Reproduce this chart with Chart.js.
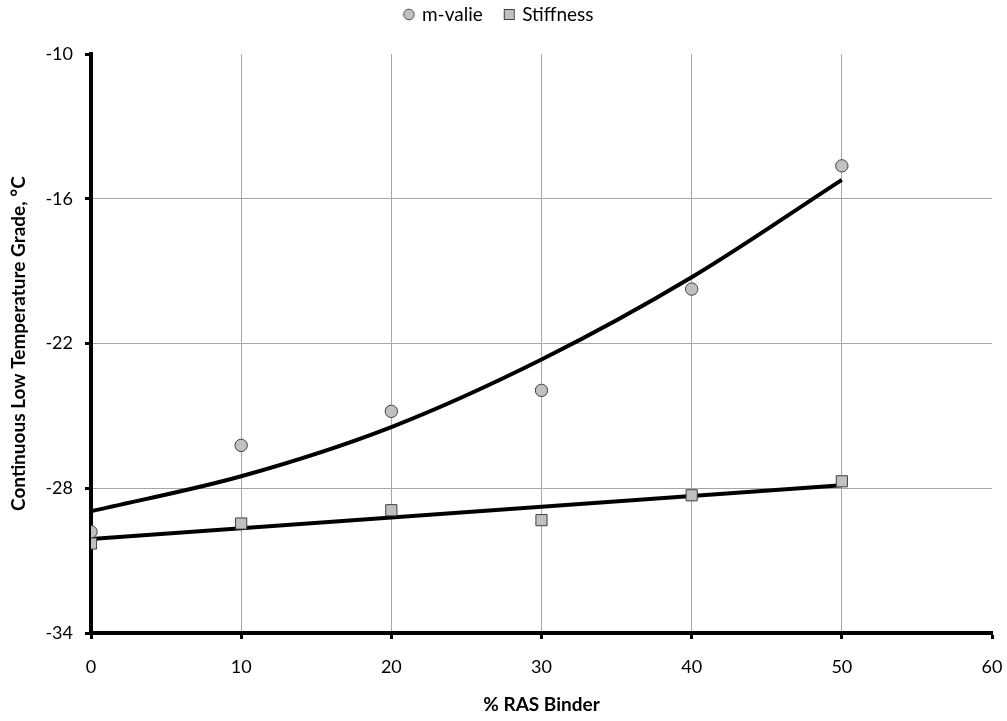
<!DOCTYPE html>
<html>
<head>
<meta charset="utf-8">
<script src="https://cdn.jsdelivr.net/npm/chart.js@4.4.1/dist/chart.umd.min.js"></script>
<style>
  html, body { margin: 0; padding: 0; background: #fff; }
  #wrap { width: 1007px; height: 721px; position: relative; }
</style>
</head>
<body>
<div id="wrap"><canvas id="c" width="1007" height="721"></canvas></div>
<script>
// ---- data ----
const rasBinder = [0, 10, 20, 30, 40, 50];
const mValue    = [-29.8, -26.22, -24.81, -23.94, -19.74, -14.63];
const stiffness = [-30.29, -29.46, -28.91, -29.32, -28.29, -27.71];
// trend lines
const mTrendX   = [0, 10, 20, 30, 40, 50];
const mTrendY   = [-28.95, -27.5, -25.46, -22.66, -19.25, -15.21];
const sTrendX   = [0, 50];
const sTrendY   = [-30.1, -27.87];
const xTicks    = [0, 10, 20, 30, 40, 50, 60];
const yTicks    = [-34, -28, -22, -16, -10];

const FONT = "Lato, 'Open Sans', sans-serif";
const pts = (xs, ys) => xs.map((x, i) => ({ x: x, y: ys[i] }));

function legendIcon(kind) {
  const c = document.createElement('canvas');
  c.width = 13; c.height = 13;
  const g = c.getContext('2d');
  g.fillStyle = '#c0c0c0';
  g.strokeStyle = '#404040';
  g.lineWidth = 1;
  if (kind === 'circle') {
    g.beginPath(); g.arc(6.5, 6.5, 5.3, 0, Math.PI * 2); g.fill(); g.stroke();
  } else {
    g.fillRect(1.5, 1.5, 10, 10); g.strokeRect(1.5, 1.5, 10, 10);
  }
  return c;
}
const icons = { 'm-valie': legendIcon('circle'), 'Stiffness': legendIcon('rect') };

new Chart(document.getElementById('c'), {
  type: 'scatter',
  data: {
    datasets: [
      {
        label: 'm-valie',
        data: pts(rasBinder, mValue),
        pointStyle: 'circle',
        pointRadius: 6.2,
        pointHoverRadius: 6.2,
        backgroundColor: '#c0c0c0',
        borderColor: '#404040',
        borderWidth: 1,
        order: 1
      },
      {
        label: 'Stiffness',
        data: pts(rasBinder, stiffness),
        pointStyle: 'rect',
        pointRadius: 7.9,
        pointHoverRadius: 7.9,
        backgroundColor: '#c0c0c0',
        borderColor: '#404040',
        borderWidth: 1,
        order: 1
      },
      {
        label: 'trend-m',
        data: pts(mTrendX, mTrendY),
        showLine: true,
        pointRadius: 0,
        borderColor: '#000',
        borderWidth: 4,
        cubicInterpolationMode: 'monotone',
        order: 2
      },
      {
        label: 'trend-s',
        data: pts(sTrendX, sTrendY),
        showLine: true,
        pointRadius: 0,
        borderColor: '#000',
        borderWidth: 4,
        order: 2
      }
    ]
  },
  options: {
    responsive: false,
    animation: false,
    layout: { padding: { left: 7, right: 15, top: -18, bottom: 5 } },
    plugins: {
      tooltip: { enabled: false },
      legend: {
        position: 'top',
        weight: 3000,
        labels: {
          generateLabels: (chart) => {
            const items = Chart.defaults.plugins.legend.labels.generateLabels(chart)
              .filter(it => it.text === 'm-valie' || it.text === 'Stiffness');
            items.forEach(it => { it.pointStyle = icons[it.text]; });
            return items;
          },
          usePointStyle: true,
          boxWidth: 7,
          boxHeight: 12,
          padding: 23,
          color: '#000',
          font: { family: FONT, size: 19 }
        }
      },
      subtitle: {
        display: true,
        text: '',
        position: 'top',
        font: { size: 6 },
        padding: { top: 0, bottom: 13 }
      }
    },
    scales: {
      x: {
        type: 'linear',
        min: 0, max: 60,
        afterBuildTicks: (s) => { s.ticks = xTicks.map(v => ({ value: v })); },
        border: { display: true, width: 4, color: '#000' },
        grid: {
          color: (ctx) => (ctx.tick && ctx.tick.value === 60) ? 'rgba(0,0,0,0)' : '#a6a6a6',
          lineWidth: 1,
          tickLength: 6,
          tickColor: '#000',
          tickWidth: 3
        },
        ticks: { color: '#000', padding: 17, font: { family: FONT, size: 18 } },
        title: {
          display: true, text: '% RAS Binder', color: '#000',
          font: { family: FONT, size: 19, weight: 'bold' },
          padding: { top: 12, bottom: 0 }
        },
        afterFit: (s) => { s.height = 83; s.paddingRight = 0; s.paddingLeft = 0; }
      },
      y: {
        type: 'linear',
        min: -34, max: -10,
        afterBuildTicks: (s) => { s.ticks = yTicks.map(v => ({ value: v })); },
        border: { display: true, width: 4, color: '#000' },
        grid: {
          color: (ctx) => (ctx.tick && ctx.tick.value === -10) ? 'rgba(0,0,0,0)' : '#a6a6a6',
          lineWidth: 1,
          tickLength: 6,
          tickColor: '#000',
          tickWidth: 3
        },
        ticks: { color: '#000', padding: 12, font: { family: FONT, size: 18 } },
        title: {
          display: true, text: 'Continuous Low Temperature Grade, °C', color: '#000',
          font: { family: FONT, size: 19, weight: 'bold' },
          padding: { top: 0, bottom: 6 }
        },
        afterFit: (s) => { s.width = 84; s.paddingTop = 0; s.paddingBottom = 0; }
      }
    }
  }
});
</script>
</body>
</html>
